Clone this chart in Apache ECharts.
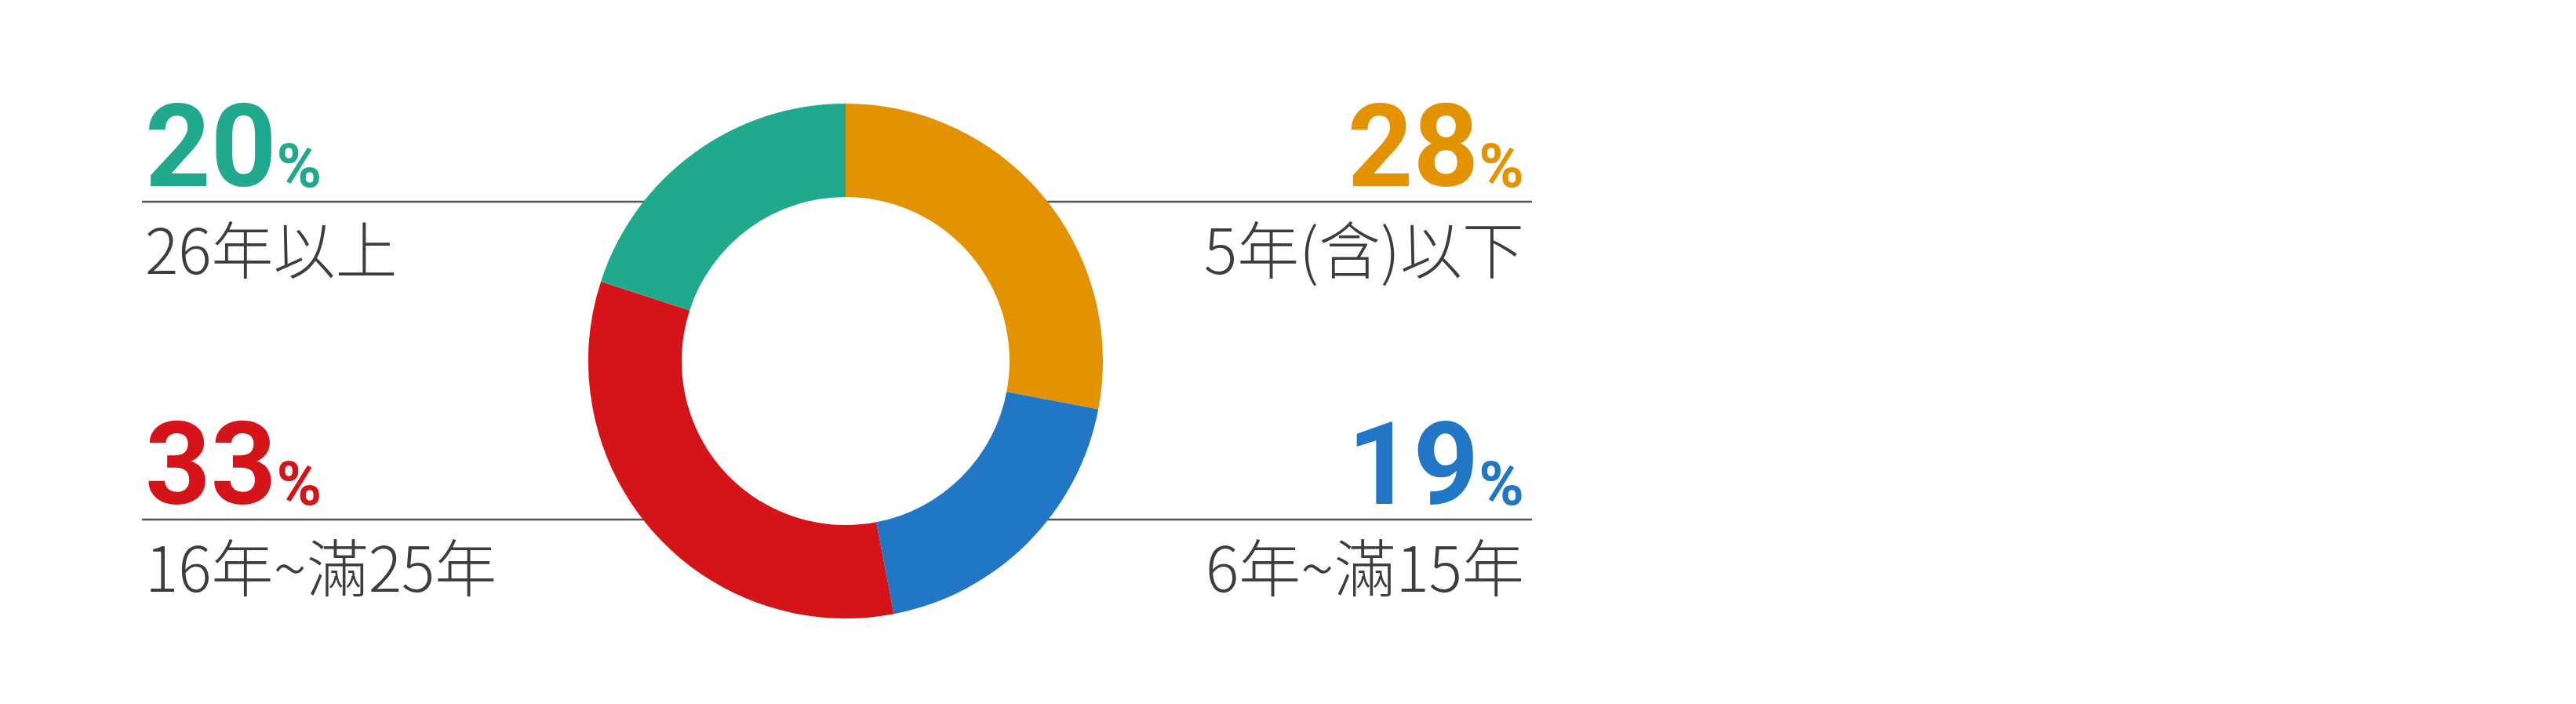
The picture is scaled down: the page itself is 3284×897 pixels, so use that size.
<!DOCTYPE html>
<html><head><meta charset="utf-8">
<script src="https://cdn.jsdelivr.net/npm/echarts@6/dist/echarts.min.js"></script>
<style>html,body{margin:0;padding:0;background:#fff}#c{width:3284px;height:897px}</style>
</head><body><div id="c"></div>
<script>
const categories = ['5年(含)以下', '6年~滿15年', '16年~滿25年', '26年以上'];
const values = [28, 19, 33, 20];
const colors = ['#E49300', '#2177C5', '#D41418', '#21A98D'];

const CX = 1078, CY = 460, R_OUT = 328, R_IN = 209;
const LINE_Y_TOP = 257, LINE_Y_BOT = 662;
const LEFT_X = 181, RIGHT_X = 1953;
const side = ['right', 'right', 'left', 'left'];
const row = ['top', 'bot', 'bot', 'top'];

const chart = echarts.init(document.getElementById('c'), null, {renderer: 'canvas'});
chart.setOption({
  backgroundColor: '#fff',
  animation: false,
  series: [{
    type: 'pie',
    center: [CX, CY],
    radius: [R_IN, R_OUT],
    startAngle: 90,
    clockwise: true,
    avoidLabelOverlap: false,
    data: categories.map((n, i) => ({name: n, value: values[i], itemStyle: {color: colors[i]},
      label: {rich: {v: {color: colors[i]}, p: {color: colors[i]}}}})),
    label: {
      show: true,
      formatter: p => '{v|' + p.value + '}{p|%}\n{n|' + p.name + '}',
      rich: {
        v: {fontFamily: 'Roboto', fontWeight: 'bold', fontSize: 146, lineHeight: 146, verticalAlign: 'bottom'},
        p: {fontFamily: 'Roboto', fontWeight: 'bold', fontSize: 78, verticalAlign: 'bottom', padding: [0, 0, 16, 0]},
        n: {fontFamily: '"Noto Sans CJK TC", "Noto Sans"', fontWeight: 300, fontSize: 79, lineHeight: 92, color: '#3d3d3d'}
      }
    },
    labelLine: {show: true, lineStyle: {color: '#555', width: 2.5}},
    labelLayout: function (params) {
      const i = params.dataIndex;
      const ly = row[i] === 'top' ? LINE_Y_TOP : LINE_Y_BOT;
      const dx = Math.sqrt(R_OUT * R_OUT - (ly - CY) * (ly - CY));
      if (side[i] === 'left') {
        const ex = CX - dx + 4;
        return {x: LEFT_X + 4, y: ly - 130, align: 'left', verticalAlign: 'top',
          labelLinePoints: [[ex, ly], [LEFT_X, ly], [LEFT_X, ly]]};
      } else {
        const ex = CX + dx - 4;
        return {x: RIGHT_X - 10, y: ly - 130, align: 'right', verticalAlign: 'top',
          labelLinePoints: [[ex, ly], [RIGHT_X, ly], [RIGHT_X, ly]]};
      }
    }
  }]
});
</script></body></html>
